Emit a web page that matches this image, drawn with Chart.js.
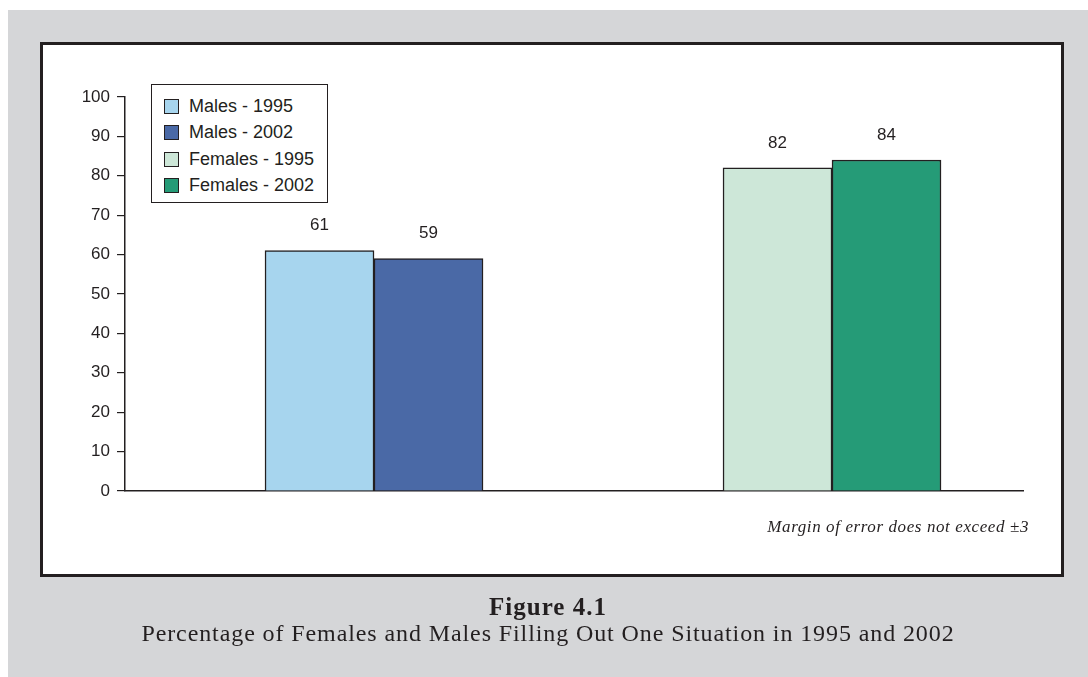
<!DOCTYPE html>
<html>
<head>
<meta charset="utf-8">
<script src="https://cdn.jsdelivr.net/npm/chart.js@4/dist/chart.umd.min.js"></script>
<style>
  html, body { margin: 0; padding: 0; background: #ffffff; width: 1088px; height: 677px; overflow: hidden; }
  #gray { position: absolute; left: 8px; top: 10px; right: 0; bottom: 0; background: #d5d6d8; }
  #frame { position: absolute; left: 40px; top: 42px; width: 1024px; height: 535px; box-sizing: border-box;
           border: 3px solid #231f20; background: #ffffff; }
  #chart { position: absolute; left: 0; top: 0; }
  #legend { position: absolute; left: 151px; top: 84px; width: 177px; height: 119px; box-sizing: border-box;
            border: 1.5px solid #231f20; background: #fff; padding-top: 8px; padding-left: 12px;
            font-family: "Liberation Sans", Arial, sans-serif; font-size: 18px; color: #231f20; }
  .row { height: 26.5px; display: flex; align-items: center; }
  .sw { width: 15px; height: 15px; box-sizing: border-box; border: 1px solid #231f20; margin-right: 10px; }
  #note { position: absolute; right: 59px; top: 517px; font-family: "Liberation Serif", "Times New Roman", serif;
          font-style: italic; font-size: 17px; letter-spacing: 0.6px; color: #231f20; white-space: nowrap; }
  #cap1 { position: absolute; left: 8px; right: 0; top: 593px; text-align: center; font-family: "Liberation Serif", serif;
          font-weight: bold; font-size: 25px; letter-spacing: 1px; color: #231f20; }
  #cap2 { position: absolute; left: 8px; right: 0; top: 620px; text-align: center; font-family: "Liberation Serif", serif;
          font-size: 24px; letter-spacing: 0.9px; color: #231f20; white-space: nowrap; }
</style>
</head>
<body>
<div id="gray"></div>
<div id="frame"></div>
<canvas id="chart" width="1088" height="677"></canvas>
<div id="legend"></div>
<div id="note">Margin of error does not exceed ±3</div>
<div id="cap1">Figure 4.1</div>
<div id="cap2">Percentage of Females and Males Filling Out One Situation in 1995 and 2002</div>
<script>
// ---- data ----
const categories = ['Males', 'Females'];
const seriesLabels = ['Males - 1995', 'Males - 2002', 'Females - 1995', 'Females - 2002'];
const males1995 = [61, null];
const males2002 = [59, null];
const females1995 = [null, 82];
const females2002 = [null, 84];
const yTicks = [0, 10, 20, 30, 40, 50, 60, 70, 80, 90, 100];

const seriesValues = [males1995, males2002, females1995, females2002];
const seriesColors = ['#a7d5ee', '#4a69a6', '#cde7d8', '#259b77'];
const ink = '#231f20';

const datasets = seriesValues.map((vals, s) => ({
  label: seriesLabels[s],
  data: categories.map((c, i) => ({ x: i, y: vals[i] })),
  backgroundColor: seriesColors[s],
  borderColor: ink,
  borderWidth: 1.5,
  barThickness: 109,
  skipNull: true
}));

const valueLabels = {
  id: 'valueLabels',
  afterDatasetsDraw(chart) {
    const ctx = chart.ctx;
    ctx.save();
    ctx.font = '17px "Liberation Sans", Arial, sans-serif';
    ctx.fillStyle = ink;
    ctx.textAlign = 'center';
    ctx.textBaseline = 'middle';
    chart.data.datasets.forEach((ds, di) => {
      const meta = chart.getDatasetMeta(di);
      meta.data.forEach((el, i) => {
        const v = ds.data[i].y;
        if (v === null || v === undefined) return;
        ctx.fillText(String(v), el.x, el.y - 25);
      });
    });
    ctx.restore();
  }
};

const chart = new Chart(document.getElementById('chart'), {
  type: 'bar',
  data: { datasets },
  options: {
    responsive: false,
    animation: false,
    devicePixelRatio: 1,
    layout: { padding: { left: 0, top: 97, right: 65, bottom: 186 } },
    plugins: { legend: { display: false }, tooltip: { enabled: false } },
    scales: {
      x: {
        type: 'linear',
        offset: false,
        min: -0.5437,
        max: 1.417,
        ticks: { display: false },
        grid: { display: false },
        border: { color: ink, width: 1.5 },
        afterFit(s) { s.height = 0; }
      },
      y: {
        min: 0,
        max: 100,
        afterBuildTicks(s) { s.ticks = yTicks.map(v => ({ value: v })); },
        ticks: { color: ink, padding: 7, font: { family: '"Liberation Sans", Arial, sans-serif', size: 17 } },
        grid: { drawOnChartArea: false, drawTicks: true, tickLength: 8, color: ink, lineWidth: 1.2 },
        border: { color: ink, width: 1.5 },
        afterFit(s) { s.width = 125; }
      }
    }
  },
  plugins: [valueLabels]
});

// HTML legend built from the chart's datasets
const legend = document.getElementById('legend');
chart.data.datasets.forEach(ds => {
  const row = document.createElement('div');
  row.className = 'row';
  const sw = document.createElement('div');
  sw.className = 'sw';
  sw.style.background = ds.backgroundColor;
  const t = document.createElement('span');
  t.textContent = ds.label;
  row.appendChild(sw);
  row.appendChild(t);
  legend.appendChild(row);
});
</script>
</body>
</html>
